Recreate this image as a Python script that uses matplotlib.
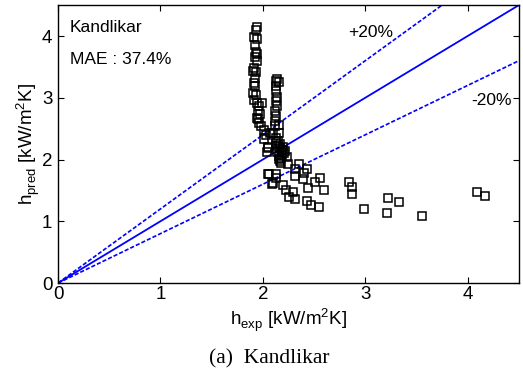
import matplotlib
matplotlib.use("Agg")
import matplotlib.pyplot as plt
import numpy as np

# experimental vs predicted heat transfer coefficient [kW/m2K]
h_exp = [1.94, 1.93, 1.91, 1.94, 1.92, 1.93, 1.94, 1.92, 1.94, 1.91,
         1.90, 1.93, 1.92, 1.91, 1.92, 1.90, 1.93, 1.91, 1.94, 1.96,
         1.99, 1.95, 1.97, 1.95, 1.96, 1.94, 1.98, 2.01, 2.07, 2.03,
         2.01, 2.05, 2.04, 2.05,
         2.14, 2.13, 2.16, 2.13, 2.13, 2.14, 2.13, 2.14, 2.12, 2.13,
         2.12, 2.16, 2.12, 2.10, 2.16,
         2.13, 2.15, 2.17, 2.19, 2.21, 2.14, 2.16, 2.18, 2.20, 2.17,
         2.15, 2.19, 2.13, 2.17, 2.22, 2.18, 2.16,
         2.24, 2.25, 2.31, 2.35, 2.43, 2.40, 2.31, 2.39,
         2.05, 2.13, 2.13, 2.10, 2.06, 2.09, 2.20, 2.23, 2.29, 2.26, 2.31,
         2.56, 2.51, 2.44, 2.60, 2.43, 2.47, 2.55,
         2.84, 2.87, 2.87, 2.99, 3.22, 3.33, 3.21, 3.55, 4.09, 4.17]
h_pred = [4.14, 4.09, 3.98, 3.96, 3.86, 3.74, 3.71, 3.66, 3.59, 3.48,
          3.44, 3.42, 3.32, 3.24, 3.19, 3.08, 3.04, 2.97, 2.92, 2.86,
          2.92, 2.78, 2.73, 2.65, 2.59, 2.67, 2.54, 2.48, 2.43, 2.40,
          2.33, 2.21, 2.13, 2.19,
          3.31, 3.27, 3.25, 3.19, 3.11, 3.02, 2.94, 2.86, 2.78, 2.70,
          2.62, 2.56, 2.55, 2.43, 2.43,
          2.27, 2.22, 2.18, 2.15, 2.10, 2.12, 2.06, 2.02, 2.20, 2.25,
          2.30, 2.08, 2.35, 1.98, 2.14, 1.95, 2.01,
          2.04, 1.92, 1.85, 1.92, 1.85, 1.78, 1.74, 1.68,
          1.77, 1.77, 1.70, 1.62, 1.76, 1.60, 1.59, 1.50, 1.47, 1.40, 1.36,
          1.70, 1.63, 1.54, 1.51, 1.33, 1.27, 1.23,
          1.63, 1.56, 1.44, 1.20, 1.38, 1.32, 1.13, 1.09, 1.48, 1.41]

x_ticks = [0, 1, 2, 3, 4]
y_ticks = [0, 1, 2, 3, 4]
lim = 4.5

plt.rcParams['font.family'] = ['Liberation Sans', 'DejaVu Sans']
plt.rcParams['mathtext.fontset'] = 'custom'
plt.rcParams['mathtext.rm'] = 'Liberation Sans'

fig = plt.figure(figsize=(5.23, 3.69), dpi=100)
ax = fig.add_axes([0.111, 0.233, 0.881, 0.753])

line = np.array([0, lim])
ax.plot(line, line, color='blue', lw=1.3)
ax.plot(line, 1.2 * line, color='blue', lw=1.2, dashes=(2.5, 1.2))
ax.plot(line, 0.8 * line, color='blue', lw=1.2, dashes=(2.5, 1.2))

ax.plot(h_exp, h_pred, 's', mfc='none', mec='black', ms=5.3, mew=1.1)

ax.set_xlim(0, lim)
ax.set_ylim(0, lim)
ax.set_xticks(x_ticks)
ax.set_yticks(y_ticks)
ax.tick_params(direction='in', top=True, right=True, length=4, width=0.8,
               labelsize=13.5)
ax.tick_params(axis='x', pad=2.5)
ax.tick_params(axis='y', pad=4)
for s in ax.spines.values():
    s.set_linewidth(1.0)

ax.set_xlabel(r'h$_{\mathrm{exp}}$ [kW/m$^{2}$K]', fontsize=13.5, labelpad=2)
ax.set_ylabel(r'h$_{\mathrm{pred}}$ [kW/m$^{2}$K]', fontsize=13.5, labelpad=0)

ax.text(0.117, 4.07, 'Kandlikar', fontsize=12.5, ha='left', va='baseline')
ax.text(0.117, 3.54, 'MAE : 37.4%', fontsize=12.5, ha='left', va='baseline')
ax.text(3.27, 3.99, '+20%', fontsize=12.5, ha='right', va='baseline')
ax.text(4.43, 2.89, '-20%', fontsize=12.5, ha='right', va='baseline')

fig.text(0.515, 0.015, '(a)  Kandlikar', fontsize=15.5, ha='center',
         family='Liberation Serif')

fig.savefig('out.png', dpi=100)
